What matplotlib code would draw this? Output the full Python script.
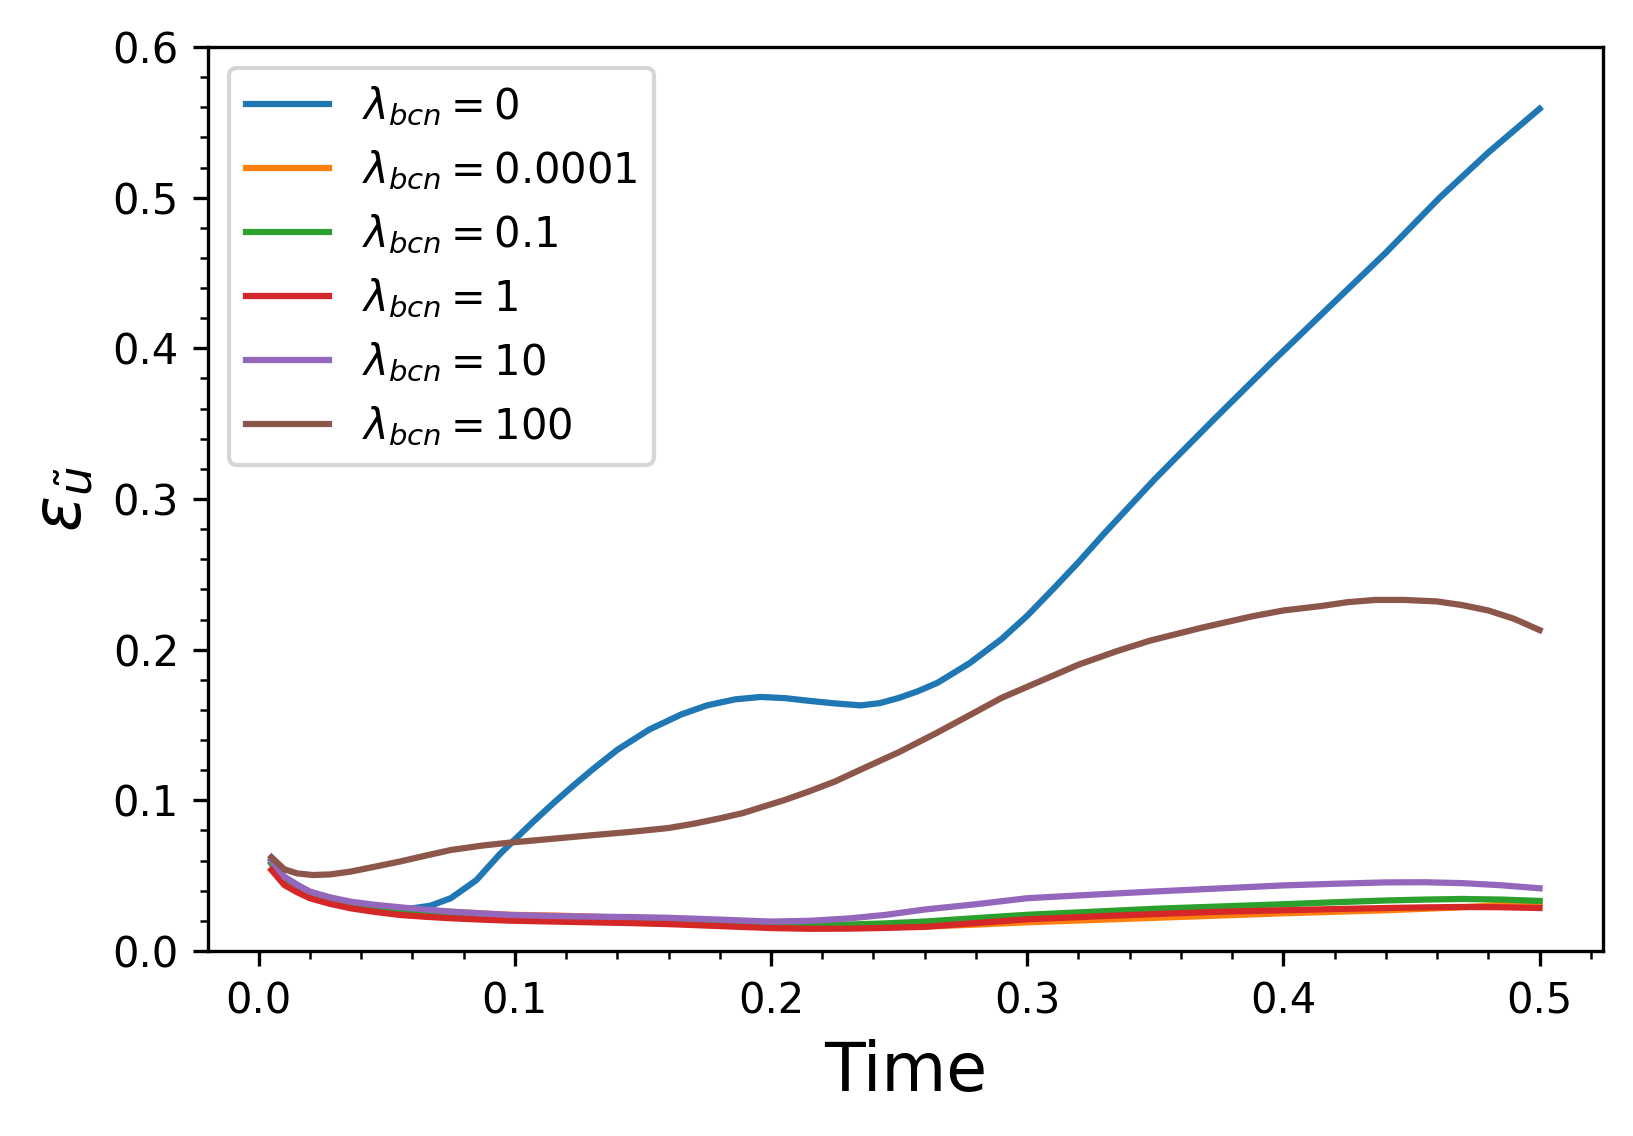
import matplotlib
matplotlib.use("Agg")
import matplotlib.pyplot as plt
from matplotlib.ticker import AutoMinorLocator

# values
t_blue = [0.005, 0.01, 0.02, 0.035, 0.05, 0.06, 0.067, 0.075, 0.085, 0.094, 0.1,
          0.107, 0.115, 0.122, 0.13, 0.14, 0.1525, 0.165, 0.175, 0.186, 0.196, 0.2055,
          0.215, 0.225, 0.235, 0.2425, 0.25, 0.2575, 0.265, 0.2775, 0.29, 0.3, 0.31,
          0.32, 0.33, 0.35, 0.373, 0.395, 0.417, 0.44, 0.461, 0.48, 0.5]
err_0 = [0.060, 0.049, 0.039, 0.032, 0.0285, 0.0283, 0.030, 0.035, 0.047, 0.064, 0.074,
         0.0855, 0.098, 0.1085, 0.120, 0.1335, 0.147, 0.157, 0.163, 0.167, 0.1686, 0.1678,
         0.166, 0.1643, 0.163, 0.1645, 0.168, 0.1725, 0.178, 0.191, 0.207, 0.2225, 0.240,
         0.258, 0.277, 0.3135, 0.353, 0.390, 0.426, 0.4635, 0.500, 0.530, 0.559]

t_low = [0.005, 0.01, 0.015, 0.02, 0.028, 0.036, 0.045, 0.055, 0.065, 0.075, 0.087, 0.098,
         0.115, 0.13, 0.145, 0.16, 0.18, 0.2, 0.215, 0.23, 0.245, 0.26, 0.28, 0.3, 0.325,
         0.35, 0.375, 0.4, 0.42, 0.44, 0.455, 0.47, 0.485, 0.5]
err_1em4 = [0.058, 0.047, 0.0415, 0.037, 0.0335, 0.0305, 0.029, 0.028, 0.027, 0.026, 0.025, 0.024,
            0.0235, 0.0228, 0.0218, 0.0205, 0.0188, 0.017, 0.0162, 0.0158, 0.0158, 0.0162, 0.0175,
            0.0190, 0.0205, 0.022, 0.0235, 0.025, 0.026, 0.027, 0.028, 0.029, 0.0305, 0.032]
err_01 = [0.058, 0.047, 0.0415, 0.037, 0.0335, 0.0305, 0.0285, 0.027, 0.0257, 0.0245, 0.0235, 0.0225,
          0.0218, 0.0212, 0.0207, 0.020, 0.0188, 0.0175, 0.0172, 0.0175, 0.0183, 0.0195, 0.0218,
          0.024, 0.026, 0.028, 0.0295, 0.031, 0.0323, 0.0335, 0.0341, 0.0345, 0.0341, 0.0332]
err_1 = [0.0538, 0.0438, 0.039, 0.035, 0.0312, 0.0283, 0.026, 0.0239, 0.0227, 0.0217, 0.0208, 0.0201,
         0.0195, 0.019, 0.0185, 0.0178, 0.0165, 0.0152, 0.0147, 0.0148, 0.0153, 0.016, 0.0185,
         0.021, 0.0228, 0.0245, 0.026, 0.027, 0.0278, 0.0285, 0.0289, 0.0292, 0.029, 0.0285]
err_10 = [0.060, 0.0493, 0.0438, 0.0394, 0.0355, 0.0327, 0.0307, 0.029, 0.0275, 0.0261, 0.0249, 0.0239,
          0.0232, 0.0228, 0.0225, 0.022, 0.0208, 0.0195, 0.0200, 0.0215, 0.024, 0.0275, 0.031,
          0.035, 0.0373, 0.0395, 0.0415, 0.0435, 0.0446, 0.0455, 0.0456, 0.045, 0.0436, 0.0416]

t_brown = [0.005, 0.01, 0.015, 0.021, 0.028, 0.036, 0.045, 0.055, 0.065, 0.075, 0.0875, 0.098,
           0.115, 0.13, 0.145, 0.16, 0.17, 0.18, 0.189, 0.197, 0.205, 0.215, 0.225, 0.2345,
           0.25, 0.2645, 0.277, 0.29, 0.305, 0.32, 0.335, 0.348, 0.368, 0.3875, 0.40, 0.415,
           0.425, 0.436, 0.447, 0.46, 0.47, 0.48, 0.49, 0.5]
err_100 = [0.0622, 0.0542, 0.0515, 0.0504, 0.0508, 0.0527, 0.0558, 0.0593, 0.0632, 0.067, 0.0700,
           0.0719, 0.0745, 0.0768, 0.079, 0.0816, 0.0845, 0.088, 0.0915, 0.0958, 0.100, 0.106,
           0.1125, 0.120, 0.132, 0.1446, 0.156, 0.168, 0.179, 0.190, 0.199, 0.206, 0.2145,
           0.222, 0.226, 0.229, 0.2315, 0.233, 0.233, 0.232, 0.2295, 0.226, 0.2205, 0.213]

labels = ['0', '0.0001', '0.1', '1', '10', '100']

fig = plt.figure(figsize=(1633 / 300, 1136 / 300), dpi=300)
ax = fig.add_subplot(111)
fig.subplots_adjust(left=0.1274, right=0.9816, top=0.9586, bottom=0.1629)

series = [(t_blue, err_0), (t_low, err_1em4), (t_low, err_01),
          (t_low, err_1), (t_low, err_10), (t_brown, err_100)]
for (t, e), lab in zip(series, labels):
    ax.plot(t, e, label=r'$\lambda_{bcn} = ' + lab + '$')

ax.set_ylim(0, 0.6)
ax.set_yticks([0.0, 0.1, 0.2, 0.3, 0.4, 0.5, 0.6])
ax.set_yticklabels(['0.0', '0.1', '0.2', '0.3', '0.4', '0.5', '0.6'])
ax.xaxis.set_minor_locator(AutoMinorLocator(5))
ax.yaxis.set_minor_locator(AutoMinorLocator(5))
ax.set_xlabel('Time', fontsize=16)
ax.set_ylabel(r'$\varepsilon_{\tilde{u}}$', fontsize=16)
ax.legend(loc='upper left')

fig.savefig('out.png', dpi=300)
